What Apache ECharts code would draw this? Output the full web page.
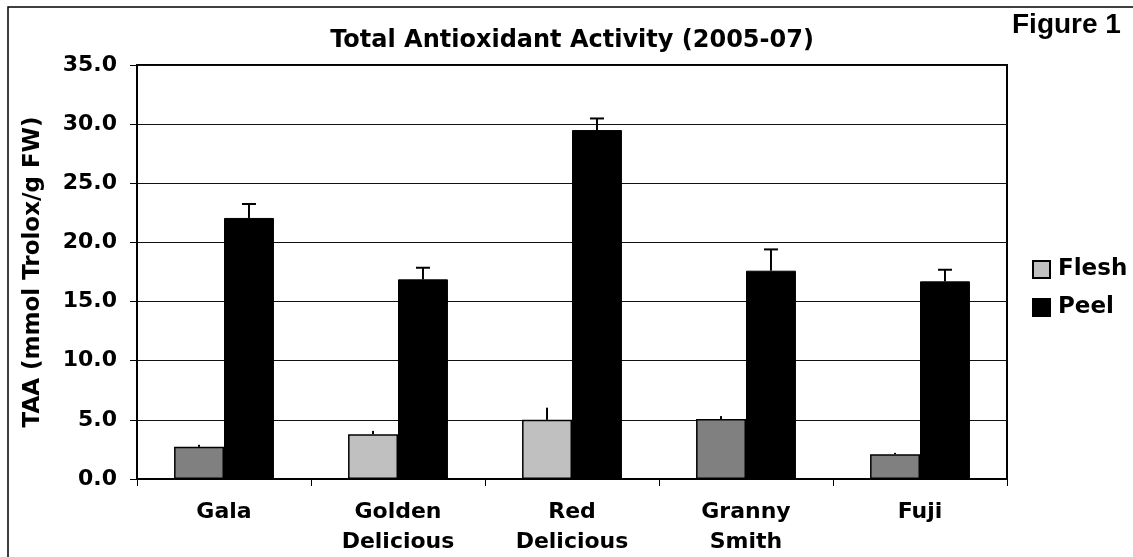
<!DOCTYPE html>
<html>
<head>
<meta charset="utf-8">
<title>Total Antioxidant Activity</title>
<script src="https://cdn.jsdelivr.net/npm/echarts@6/dist/echarts.min.js"></script>
<style>
  html, body { margin: 0; padding: 0; background: #fff; }
  #chart { width: 1133px; height: 557px; }
</style>
</head>
<body>
<div id="chart"></div>
<script>
  // values
  const cultivars = ['Gala', 'Golden Delicious', 'Red Delicious', 'Granny Smith', 'Fuji'];
  const flesh = [2.72, 3.79, 5.0, 5.07, 2.10];
  const fleshErr = [0.17, 0.28, 1.03, 0.25, 0.11];
  const peel = [22.07, 16.88, 29.5, 17.61, 16.71];
  const peelErr = [1.18, 0.98, 0.98, 1.8, 0.98];
  const yTicks = [0, 5, 10, 15, 20, 25, 30, 35];

  // flesh bars are not all the same shade in the original
  const fleshShade = ['#808080', '#c0c0c0', '#c0c0c0', '#808080', '#808080'];

  const font = 'DejaVu Sans, Verdana, sans-serif';
  const barPct = 0.287;

  const errSeries = (vals, errs, side, cap) => ({
    type: 'custom',
    z: 10,
    silent: true,
    data: vals.map((v, i) => [i, v, errs[i]]),
    renderItem(params, api) {
      const i = api.value(0);
      const v = api.value(1);
      const e = api.value(2);
      const catW = api.size([1, 0])[0];
      const base = api.coord([i, v]);
      const top = api.coord([i, v + e]);
      const x = base[0] + side * catW * barPct / 2;
      const kids = [{
        type: 'line',
        shape: {x1: x, y1: base[1], x2: x, y2: top[1]},
        style: {stroke: '#000', lineWidth: 2}
      }];
      if (cap) {
        kids.push({
          type: 'line',
          shape: {x1: x - cap / 2, y1: top[1], x2: x + cap / 2, y2: top[1]},
          style: {stroke: '#000', lineWidth: 2}
        });
      }
      return {type: 'group', children: kids};
    }
  });

  const chart = echarts.init(document.getElementById('chart'));
  chart.setOption({
    animation: false,
    backgroundColor: '#fff',
    textStyle: {fontFamily: font},
    title: {
      text: 'Total Antioxidant Activity (2005-07)',
      left: 572,
      textAlign: 'center',
      top: 29,
      padding: 0,
      textStyle: {fontFamily: font, fontWeight: 'bold', fontSize: 24, color: '#000'}
    },
    graphic: [
      {
        type: 'rect',
        shape: {x: 8, y: 7, width: 1200, height: 600},
        style: {fill: null, stroke: '#000', lineWidth: 1.5},
        silent: true
      },
      {
        type: 'text',
        left: 1012,
        top: 11,
        style: {
          text: 'Figure 1',
          font: 'bold 28px "Liberation Sans", Arial, sans-serif',
          fill: '#000'
        }
      }
    ],
    legend: {
      orient: 'vertical',
      left: 1032,
      top: 258,
      padding: 0,
      itemWidth: 17,
      itemHeight: 17,
      itemGap: 15,
      icon: 'rect',
      data: ['Flesh', 'Peel'],
      textStyle: {fontFamily: font, fontWeight: 'bold', fontSize: 23, color: '#000', padding: [0, 0, 0, 3]}
    },
    grid: {
      left: 137,
      right: 126,
      top: 65,
      bottom: 76,
      show: true,
      borderColor: '#000',
      borderWidth: 2
    },
    xAxis: {
      type: 'category',
      data: cultivars,
      axisLine: {lineStyle: {color: '#000', width: 1}},
      axisTick: {show: true, length: 7, lineStyle: {color: '#000'}},
      axisLabel: {
        margin: 18,
        fontFamily: font,
        fontWeight: 'bold',
        fontSize: 22,
        lineHeight: 30,
        color: '#000',
        formatter: s => s.replace(' ', '\n')
      }
    },
    yAxis: {
      type: 'value',
      min: yTicks[0],
      max: yTicks[yTicks.length - 1],
      interval: yTicks[1] - yTicks[0],
      name: 'TAA (mmol Trolox/g FW)',
      nameLocation: 'middle',
      nameGap: 92,
      nameTextStyle: {fontFamily: font, fontWeight: 'bold', fontSize: 23, color: '#000'},
      axisLine: {show: true, lineStyle: {color: '#000', width: 2}},
      axisTick: {show: true, length: 7, lineStyle: {color: '#000'}},
      axisLabel: {
        margin: 20,
        fontFamily: font,
        fontWeight: 'bold',
        fontSize: 22,
        color: '#000',
        formatter: v => v.toFixed(1)
      },
      splitLine: {lineStyle: {color: '#111', width: 1.2}}
    },
    series: [
      {
        name: 'Flesh',
        type: 'bar',
        barWidth: (barPct * 100) + '%',
        barGap: '0%',
        itemStyle: {color: '#c0c0c0', borderColor: '#000', borderWidth: 1.5},
        data: flesh.map((v, i) => ({value: v, itemStyle: {color: fleshShade[i]}}))
      },
      {
        name: 'Peel',
        type: 'bar',
        barWidth: (barPct * 100) + '%',
        barGap: '0%',
        itemStyle: {color: '#000', borderColor: '#000', borderWidth: 1},
        data: peel
      },
      errSeries(flesh, fleshErr, -1, 0),
      errSeries(peel, peelErr, 1, 14)
    ]
  });
</script>
</body>
</html>
